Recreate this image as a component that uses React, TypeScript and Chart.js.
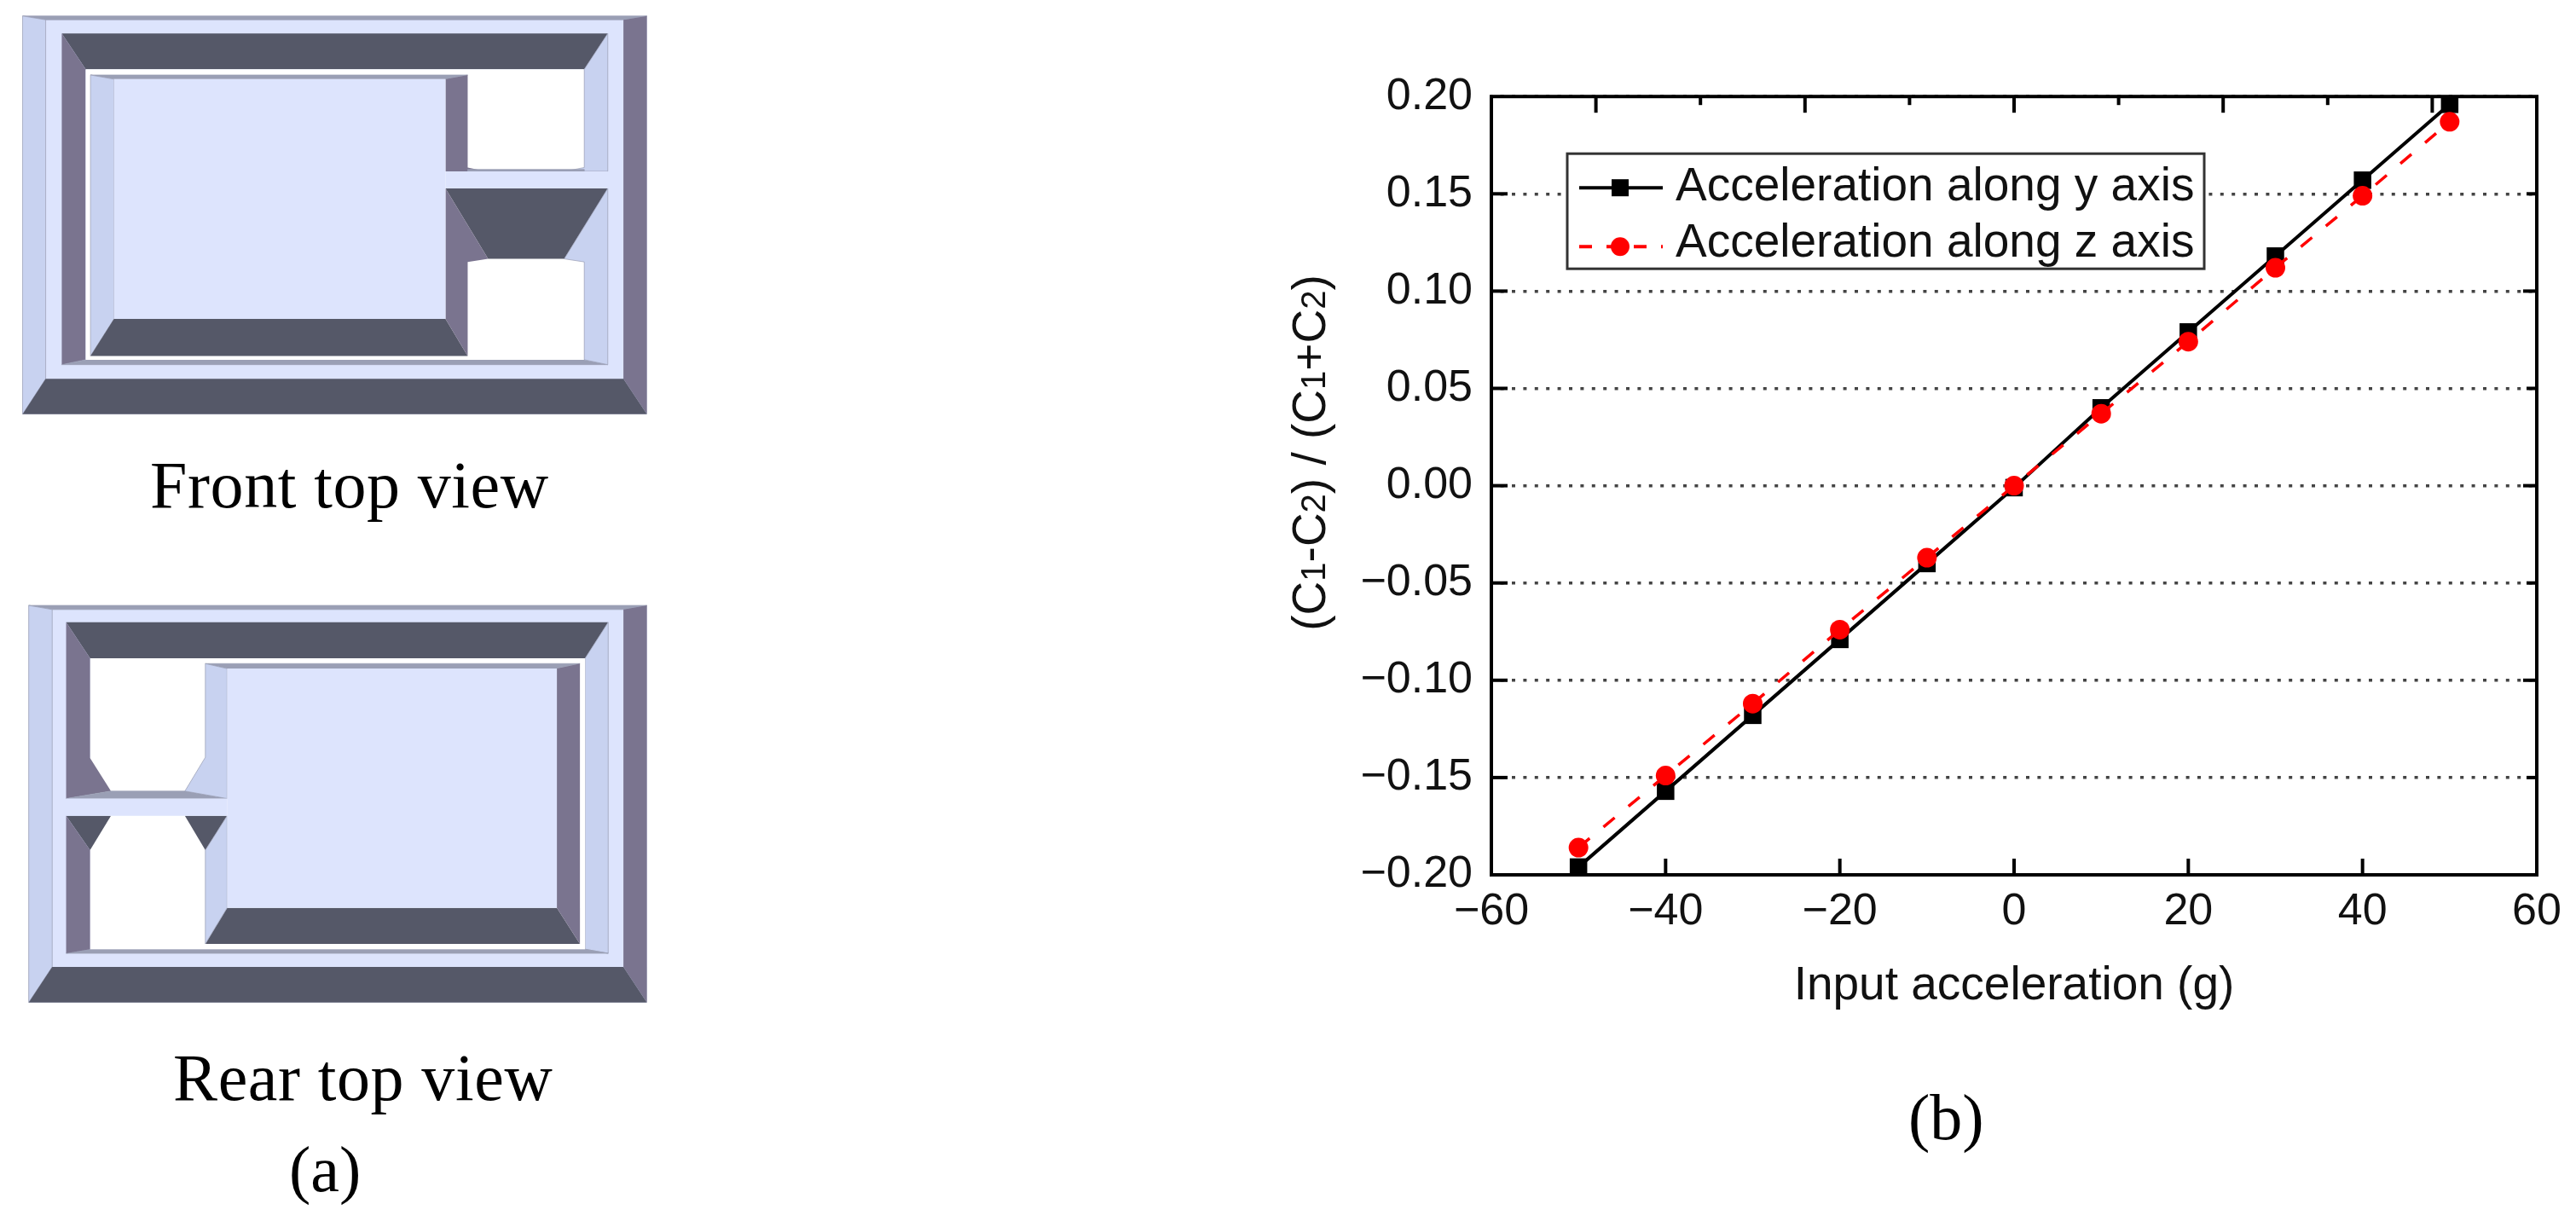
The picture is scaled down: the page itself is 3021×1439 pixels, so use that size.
import { useEffect, useRef } from 'react';
import Chart from 'chart.js/auto';
import type { Plugin } from 'chart.js';

// chart values
const INPUT_G: number[] = [-50, -40, -30, -20, -10, 0, 10, 20, 30, 40, 50];
const ALONG_Y: number[] = [-0.196, -0.157, -0.118, -0.079, -0.04, -0.001, 0.04, 0.079, 0.118, 0.157, 0.196];
const ALONG_Z: number[] = [-0.186, -0.149, -0.112, -0.074, -0.037, 0, 0.037, 0.074, 0.112, 0.149, 0.187];
const SERIES_NAMES: string[] = ['Acceleration along y axis', 'Acceleration along z axis'];

// tick marks, the top axis does not line up with the bottom one in the original
const BOTTOM_TICKS: number[] = [-40, -20, 0, 20, 40];
const TOP_LONG_TICKS: number[] = [-48, -24, 0, 24, 48];
const TOP_SHORT_TICKS: number[] = [-36, -12, 12, 36];
const Y_TICKS: number[] = [-0.15, -0.1, -0.05, 0, 0.05, 0.1, 0.15];

const FONT = '"Liberation Sans", Arial, sans-serif';
const SERIF = '"Liberation Serif", "Times New Roman", serif';

const FACE = '#dde4fd';
const LIGHT = '#c8d2f0';
const PURPLE = '#7a748f';
const DARK = '#555868';
const THIN = '#9a9fb5';

type Poly = [string, string];

// schematic facets, in the units of the sketch group below
const FRONT_POLYS: Poly[] = [
  [FACE, '52,42 1487,42 1487,1088 52,1088'],
  [THIN, '52,42 1487,42 1433,52 105,52'],
  [LIGHT, '52,42 105,52 105,995 52,1088'],
  [PURPLE, '1487,42 1433,52 1433,995 1487,1088'],
  [DARK, '52,1088 105,995 1433,995 1487,1088'],
  [DARK, '142,88 1397,88 1343,182 197,182'],
  [PURPLE, '142,88 197,182 197,945 142,958'],
  [THIN, '142,958 197,945 1343,945 1397,958'],
  ['#ffffff', '197,182 1343,182 1343,945 197,945'],
  [LIGHT, '1397,88 1343,182 1343,440 1300,450 1397,450'],
  [THIN, '208,197 1075,197 1024,208 262,208'],
  [LIGHT, '208,197 262,208 262,838 208,935'],
  [DARK, '262,838 1024,838 1075,935 208,935'],
  [PURPLE, '1024,208 1075,197 1075,440 1118,450 1024,450'],
  [THIN, '1075,445 1343,445 1343,452 1075,452'],
  [DARK, '1024,495 1397,495 1297,680 1122,680'],
  [PURPLE, '1024,495 1122,680 1075,688 1075,935 1024,838'],
  [LIGHT, '1397,495 1297,680 1343,688 1343,945 1397,958'],
  [FACE, '1024,450 1397,450 1397,495 1024,495'],
  [FACE, '262,208 1024,208 1024,838 262,838'],
];

const REAR_POLYS: Poly[] = [
  [FACE, '66,62 1487,62 1487,1024 66,1024'],
  [THIN, '66,62 1487,62 1433,72 120,72'],
  [LIGHT, '66,62 120,72 120,938 66,1024'],
  [PURPLE, '1487,62 1433,72 1433,938 1487,1024'],
  [DARK, '66,1024 120,938 1433,938 1487,1024'],
  [DARK, '152,103 1398,103 1345,190 207,190'],
  [LIGHT, '1398,103 1345,190 1345,895 1398,905'],
  [THIN, '152,905 207,895 1345,895 1398,905'],
  ['#ffffff', '207,190 1345,190 1345,895 207,895'],
  [PURPLE, '152,103 207,190 207,432 255,512 152,530'],
  [THIN, '152,530 255,512 425,512 522,530'],
  [THIN, '472,203 1333,203 1280,215 522,215'],
  [DARK, '522,795 1280,795 1333,882 472,882'],
  [PURPLE, '1280,215 1333,203 1333,882 1280,795'],
  [LIGHT, '472,203 522,215 522,530 425,512 472,430'],
  [DARK, '152,572 255,572 207,655'],
  [DARK, '425,572 522,572 472,655'],
  [PURPLE, '152,572 207,655 207,895 152,905'],
  [LIGHT, '522,572 472,655 472,882 522,795'],
  [FACE, '152,530 522,530 522,572 152,572'],
  [FACE, '522,215 1280,215 1280,795 522,795'],
];

// inward ticks, frame and the origin style legend box
const framePlugin: Plugin<'line'> = {
  id: 'frame',
  beforeDatasetsDraw(chart) {
    const { ctx, chartArea: a, scales } = chart;
    const x = scales.x;
    const y = scales.y;
    ctx.save();
    ctx.strokeStyle = '#000';
    ctx.lineWidth = 4;
    const seg = (x1: number, y1: number, x2: number, y2: number) => {
      ctx.beginPath();
      ctx.moveTo(x1, y1);
      ctx.lineTo(x2, y2);
      ctx.stroke();
    };
    BOTTOM_TICKS.forEach((v) => seg(x.getPixelForValue(v), a.bottom, x.getPixelForValue(v), a.bottom - 19));
    TOP_LONG_TICKS.forEach((v) => seg(x.getPixelForValue(v), a.top, x.getPixelForValue(v), a.top + 19));
    TOP_SHORT_TICKS.forEach((v) => seg(x.getPixelForValue(v), a.top, x.getPixelForValue(v), a.top + 10));
    Y_TICKS.forEach((v, i) => {
      seg(a.left, y.getPixelForValue(v), a.left + 19, y.getPixelForValue(v));
      seg(a.right, y.getPixelForValue(v), a.right - (i % 2 ? 16 : 12), y.getPixelForValue(v));
    });
    ctx.strokeRect(a.left, a.top, a.right - a.left, a.bottom - a.top);
    ctx.restore();
  },
  afterDatasetsDraw(chart) {
    const { ctx, chartArea: a } = chart;
    const left = a.left + 89;
    const top = a.top + 67;
    ctx.save();
    ctx.fillStyle = '#fff';
    ctx.strokeStyle = '#333';
    ctx.lineWidth = 3;
    ctx.fillRect(left, top, 747, 135);
    ctx.strokeRect(left, top, 747, 135);

    // black row
    ctx.strokeStyle = '#000';
    ctx.lineWidth = 4;
    ctx.beginPath();
    ctx.moveTo(left + 14, top + 40);
    ctx.lineTo(left + 112, top + 40);
    ctx.stroke();
    ctx.fillStyle = '#000';
    ctx.fillRect(left + 52, top + 30, 20, 20);

    // red row
    ctx.strokeStyle = '#ff0000';
    ctx.setLineDash([15, 17]);
    ctx.beginPath();
    ctx.moveTo(left + 14, top + 109);
    ctx.lineTo(left + 112, top + 109);
    ctx.stroke();
    ctx.setLineDash([]);
    ctx.fillStyle = '#ff0000';
    ctx.beginPath();
    ctx.arc(left + 62, top + 109, 11, 0, Math.PI * 2);
    ctx.fill();

    ctx.fillStyle = '#111';
    ctx.font = `55px ${FONT}`;
    ctx.textBaseline = 'alphabetic';
    ctx.fillText(SERIES_NAMES[0], left + 127, top + 55);
    ctx.fillText(SERIES_NAMES[1], left + 127, top + 121);
    ctx.restore();
  },
};

function Sketch({ polys, scaleY, shiftY }: { polys: Poly[]; scaleY: number; shiftY: number }) {
  return (
    <g transform={`translate(0 ${shiftY}) scale(${1 / 1.96} ${1 / scaleY})`}>
      {polys.map(([fill, points], i) => (
        <polygon key={i} points={points} fill={fill} stroke={fill === LIGHT || fill === THIN ? THIN : 'none'} strokeWidth={1.5} />
      ))}
    </g>
  );
}

const serifLabel = (left: number, baseline: number, size: number, spacing: number): React.CSSProperties => ({
  position: 'absolute',
  left,
  top: baseline - size + 6,
  fontFamily: SERIF,
  fontSize: size,
  lineHeight: `${size * 1.2}px`,
  letterSpacing: spacing,
  color: '#000',
  whiteSpace: 'nowrap',
});

export default function App() {
  const canvasRef = useRef<HTMLCanvasElement>(null);

  useEffect(() => {
    if (!canvasRef.current) return;

    const chart = new Chart(canvasRef.current, {
      type: 'line',
      data: {
        datasets: [
          {
            label: SERIES_NAMES[0],
            data: INPUT_G.map((g, i) => ({ x: g, y: ALONG_Y[i] })),
            borderColor: '#000',
            backgroundColor: '#000',
            borderWidth: 4,
            pointStyle: 'rect',
            pointRadius: 14.5,
            pointBorderWidth: 0,
            order: 2,
            clip: false,
          },
          {
            label: SERIES_NAMES[1],
            data: INPUT_G.map((g, i) => ({ x: g, y: ALONG_Z[i] })),
            borderColor: '#ff0000',
            backgroundColor: '#ff0000',
            borderWidth: 3.5,
            borderDash: [17, 21],
            pointStyle: 'circle',
            pointRadius: 11.5,
            pointBorderWidth: 0,
            order: 1,
            clip: false,
          },
        ],
      },
      options: {
        animation: false,
        responsive: false,
        devicePixelRatio: 1,
        events: [],
        layout: { padding: { top: 50, right: 46, left: 0, bottom: 0 } },
        plugins: { legend: { display: false }, tooltip: { enabled: false } },
        scales: {
          x: {
            type: 'linear',
            min: -60,
            max: 60,
            afterFit: (scale) => { scale.height = 194; },
            grid: { display: false },
            border: { display: false },
            ticks: {
              stepSize: 20,
              autoSkip: false,
              maxRotation: 0,
              padding: 4,
              color: '#111',
              font: { family: FONT, size: 52 },
              callback: (v) => String(v).replace('-', '\u2212'),
            },
            title: {
              display: true,
              text: 'Input acceleration (g)',
              color: '#111',
              font: { family: FONT, size: 55 },
              padding: { top: 0, bottom: 30 },
            },
          },
          y: {
            type: 'linear',
            min: -0.2,
            max: 0.2,
            afterFit: (scale) => { scale.width = 249; },
            grid: { color: '#444', lineWidth: 3.5, drawTicks: false },
            border: { display: false, dash: [4, 9.4], dashOffset: 2.8 },
            ticks: {
              stepSize: 0.05,
              autoSkip: false,
              padding: 22,
              color: '#111',
              font: { family: FONT, size: 52 },
              callback: (v) => Number(v).toFixed(2).replace('-', '\u2212'),
            },
          },
        },
      },
      plugins: [framePlugin],
    });

    return () => chart.destroy();
  }, []);

  return (
    <div style={{ position: 'absolute', left: 0, top: 0, width: 3021, height: 1439, overflow: 'hidden', background: '#fff' }}>
      <svg width={3021} height={1439} style={{ position: 'absolute', left: 0, top: 0 }}>
        <Sketch polys={FRONT_POLYS} scaleY={2.24} shiftY={0} />
        <Sketch polys={REAR_POLYS} scaleY={2.066} shiftY={680} />
      </svg>
      <div style={serifLabel(176, 594, 78, 0.6)}>Front top view</div>
      <div style={serifLabel(203, 1289, 78, 0.6)}>Rear top view</div>
      <div style={serifLabel(339, 1396, 76, 0)}>(a)</div>
      <div style={serifLabel(2238, 1335, 76, 0)}>(b)</div>
      <canvas
        ref={canvasRef}
        width={1521}
        height={1160}
        style={{ position: 'absolute', left: 1500, top: 60, width: 1521, height: 1160, filter: 'blur(0.6px)' }}
      />
      <div
        style={{
          position: 'absolute',
          left: 1535,
          top: 531,
          width: 0,
          height: 0,
          display: 'flex',
          alignItems: 'center',
          justifyContent: 'center',
          transform: 'rotate(-90deg)',
          fontFamily: FONT,
          fontSize: 55,
          color: '#111',
          whiteSpace: 'nowrap',
        }}
      >
        <span>
          (C<span style={{ fontSize: 40 }}>1</span>-C<span style={{ fontSize: 40 }}>2</span>) / (C
          <span style={{ fontSize: 40 }}>1</span>+C<span style={{ fontSize: 40 }}>2</span>)
        </span>
      </div>
    </div>
  );
}
